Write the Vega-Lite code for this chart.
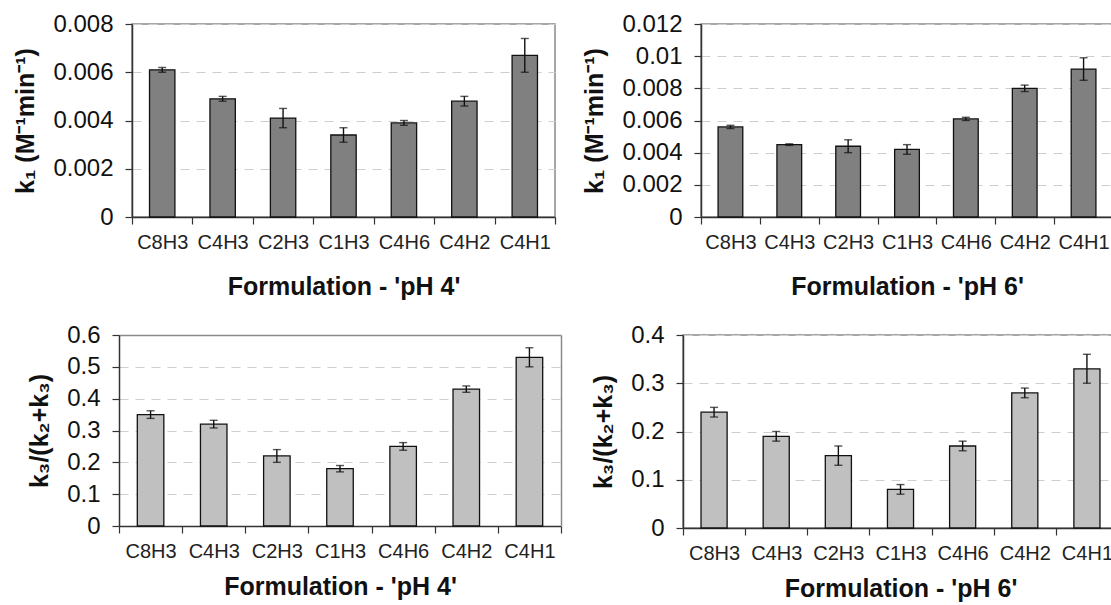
{
  "$schema": "https://vega.github.io/schema/vega-lite/v6.json",
  "padding": {"left": 13, "top": 11, "right": 0, "bottom": 0},
  "background": "white",
  "spacing": 22,
  "bounds": "full",
  "config": {
    "font": "Liberation Sans",
    "view": {"stroke": "#8a8a8a", "strokeWidth": 1.5},
    "axisX": {"labelAngle": 0, "tickBand": "extent", "tickSize": 7, "labelPadding": 8, "labelFontSize": 20, "labelColor": "#222", "labelFont": "Liberation Sans", "titleFont": "Liberation Sans", "titleFontSize": 25, "titleFontWeight": "bold", "titleColor": "#111", "titlePadding": 22, "domainColor": "#333", "tickColor": "#333", "domainWidth": 1.5, "tickWidth": 1.2, "grid": false},
    "axisY": {"format": "~g", "tickSize": 7, "labelPadding": 12, "labelFontSize": 24, "labelColor": "#111", "labelFont": "Liberation Sans", "titleFont": "Liberation Sans", "titleFontSize": 25, "titleFontWeight": "bold", "titleColor": "#111", "titlePadding": 14, "domainColor": "#333", "tickColor": "#333", "domainWidth": 1.5, "tickWidth": 1.2, "grid": true, "gridColor": "#cfcfcf", "gridDash": [9, 7], "gridWidth": 1}
  },
  "datasets": {
    "k1_pH4": [
      {"formulation": "C8H3", "value": 0.0061, "err": 0.0001},
      {"formulation": "C4H3", "value": 0.0049, "err": 0.0001},
      {"formulation": "C2H3", "value": 0.0041, "err": 0.0004},
      {"formulation": "C1H3", "value": 0.0034, "err": 0.0003},
      {"formulation": "C4H6", "value": 0.0039, "err": 0.0001},
      {"formulation": "C4H2", "value": 0.0048, "err": 0.0002},
      {"formulation": "C4H1", "value": 0.0067, "err": 0.0007}
    ],
    "k1_pH6": [
      {"formulation": "C8H3", "value": 0.0056, "err": 0.0001},
      {"formulation": "C4H3", "value": 0.0045, "err": 0.00005},
      {"formulation": "C2H3", "value": 0.0044, "err": 0.0004},
      {"formulation": "C1H3", "value": 0.0042, "err": 0.0003},
      {"formulation": "C4H6", "value": 0.0061, "err": 0.0001},
      {"formulation": "C4H2", "value": 0.0080, "err": 0.0002},
      {"formulation": "C4H1", "value": 0.0092, "err": 0.0007}
    ],
    "ratio_pH4": [
      {"formulation": "C8H3", "value": 0.35, "err": 0.012},
      {"formulation": "C4H3", "value": 0.32, "err": 0.012},
      {"formulation": "C2H3", "value": 0.22, "err": 0.02},
      {"formulation": "C1H3", "value": 0.18, "err": 0.01},
      {"formulation": "C4H6", "value": 0.25, "err": 0.012},
      {"formulation": "C4H2", "value": 0.43, "err": 0.01},
      {"formulation": "C4H1", "value": 0.53, "err": 0.03}
    ],
    "ratio_pH6": [
      {"formulation": "C8H3", "value": 0.24, "err": 0.01},
      {"formulation": "C4H3", "value": 0.19, "err": 0.01},
      {"formulation": "C2H3", "value": 0.15, "err": 0.02},
      {"formulation": "C1H3", "value": 0.08, "err": 0.01},
      {"formulation": "C4H6", "value": 0.17, "err": 0.01},
      {"formulation": "C4H2", "value": 0.28, "err": 0.01},
      {"formulation": "C4H1", "value": 0.33, "err": 0.03}
    ]
  },
  "vconcat": [
    {
      "spacing": 25,
      "bounds": "full",
      "hconcat": [
        {
          "width": 423, "height": 193,
          "data": {"name": "k1_pH4"},
          "encoding": {
            "x": {"field": "formulation", "type": "nominal", "sort": null, "scale": {"paddingInner": 0, "paddingOuter": 0}, "title": "Formulation - 'pH 4'"},
            "y": {"field": "value", "type": "quantitative", "scale": {"domain": [0, 0.008], "nice": false}, "axis": {"values": [0, 0.002, 0.004, 0.006, 0.008]}, "title": "k₁ (M⁻¹min⁻¹)"}
          },
          "layer": [
            {"mark": {"type": "bar", "fill": "#808080", "stroke": "#111", "strokeWidth": 1.3, "width": {"band": 0.42}}},
            {"mark": {"type": "errorbar", "ticks": {"size": 8, "thickness": 1.4, "color": "#111"}, "rule": {"strokeWidth": 1.4, "color": "#111"}}, "encoding": {"yError": {"field": "err"}}}
          ]
        },
        {
          "width": 412, "height": 193,
          "data": {"name": "k1_pH6"},
          "encoding": {
            "x": {"field": "formulation", "type": "nominal", "sort": null, "scale": {"paddingInner": 0, "paddingOuter": 0}, "title": "Formulation - 'pH 6'"},
            "y": {"field": "value", "type": "quantitative", "scale": {"domain": [0, 0.012], "nice": false}, "axis": {"values": [0, 0.002, 0.004, 0.006, 0.008, 0.01, 0.012]}, "title": "k₁ (M⁻¹min⁻¹)"}
          },
          "layer": [
            {"mark": {"type": "bar", "fill": "#808080", "stroke": "#111", "strokeWidth": 1.3, "width": {"band": 0.42}}},
            {"mark": {"type": "errorbar", "ticks": {"size": 8, "thickness": 1.4, "color": "#111"}, "rule": {"strokeWidth": 1.4, "color": "#111"}}, "encoding": {"yError": {"field": "err"}}}
          ]
        }
      ]
    },
    {
      "spacing": 16,
      "bounds": "full",
      "hconcat": [
        {
          "width": 429, "height": 191,
          "data": {"name": "ratio_pH4"},
          "view": {"stroke": null},
          "layer": [
            {
              "mark": {"type": "bar", "fill": "#c0c0c0", "stroke": "#111", "strokeWidth": 1.3, "width": {"band": 0.42}},
              "encoding": {
                "x": {"field": "formulation", "type": "nominal", "sort": null, "scale": {"paddingInner": 0, "paddingOuter": 0, "range": [-13, 429]}, "axis": {"titlePadding": 13}, "title": "Formulation - 'pH 4'"},
                "y": {"field": "value", "type": "quantitative", "scale": {"domain": [0, 0.6], "nice": false}, "axis": {"values": [0, 0.1, 0.2, 0.3, 0.4, 0.5, 0.6], "offset": 13}, "title": "k₃/(k₂+k₃)"}
              }
            },
            {
              "mark": {"type": "errorbar", "ticks": {"size": 8, "thickness": 1.4, "color": "#111"}, "rule": {"strokeWidth": 1.4, "color": "#111"}},
              "encoding": {
                "x": {"field": "formulation", "type": "nominal", "sort": null, "axis": null},
                "y": {"field": "value", "type": "quantitative", "axis": null},
                "yError": {"field": "err"}
              }
            },
            {
              "mark": {"type": "point", "opacity": 0},
              "encoding": {
                "x": {"field": "formulation", "type": "nominal", "sort": null, "axis": {"orient": "top", "labels": false, "ticks": false, "title": null, "domainColor": "#8a8a8a", "domainWidth": 1.5}},
                "y": {"field": "value", "type": "quantitative", "axis": {"orient": "right", "labels": false, "ticks": false, "title": null, "grid": false, "domainColor": "#8a8a8a", "domainWidth": 1.5}}
              }
            }
          ],
          "resolve": {"axis": {"x": "independent", "y": "independent"}}
        },
        {
          "width": 435, "height": 193,
          "data": {"name": "ratio_pH6"},
          "encoding": {
            "x": {"field": "formulation", "type": "nominal", "sort": null, "scale": {"paddingInner": 0, "paddingOuter": 0}, "axis": {"titlePadding": 13}, "title": "Formulation - 'pH 6'"},
            "y": {"field": "value", "type": "quantitative", "scale": {"domain": [0, 0.4], "nice": false}, "axis": {"values": [0, 0.1, 0.2, 0.3, 0.4]}, "title": "k₃/(k₂+k₃)"}
          },
          "layer": [
            {"mark": {"type": "bar", "fill": "#c0c0c0", "stroke": "#111", "strokeWidth": 1.3, "width": {"band": 0.42}}},
            {"mark": {"type": "errorbar", "ticks": {"size": 8, "thickness": 1.4, "color": "#111"}, "rule": {"strokeWidth": 1.4, "color": "#111"}}, "encoding": {"yError": {"field": "err"}}}
          ]
        }
      ]
    }
  ]
}
